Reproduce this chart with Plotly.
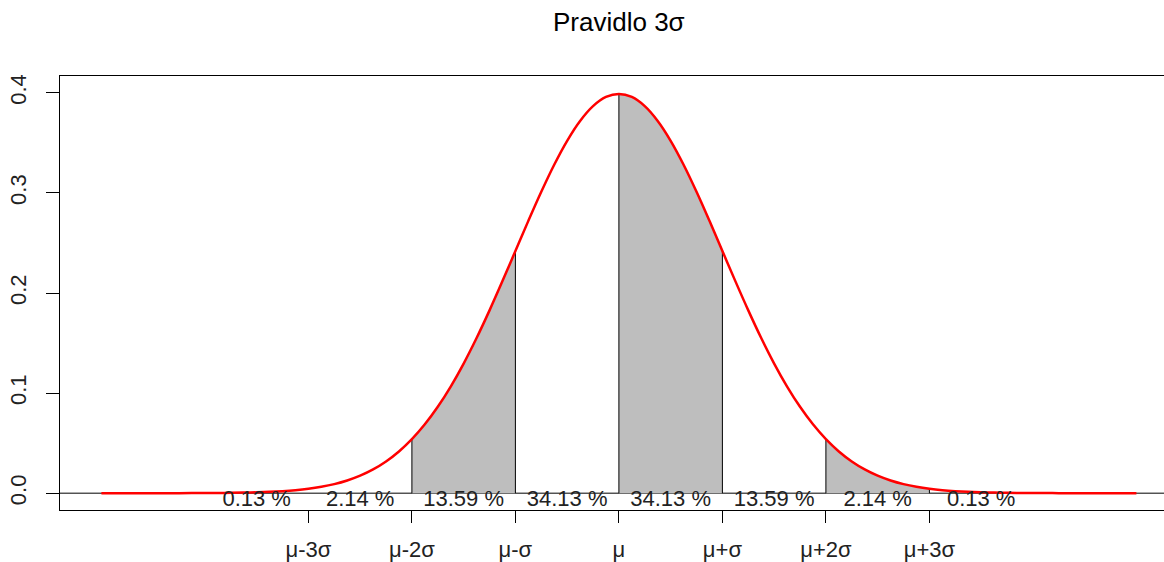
import plotly.graph_objects as go

x_grid = [i * 0.125 for i in range(-40, 41)]
density_right = [
    0.39894, 0.39584, 0.38667, 0.37185, 0.35207, 0.32816, 0.30114, 0.27206,
    0.24197, 0.21187, 0.18265, 0.15502, 0.12952, 0.10653, 0.08628, 0.06879,
    0.05399, 0.04172, 0.03174, 0.02377, 0.01753, 0.01273, 0.00909, 0.00640,
    0.00443, 0.00302, 0.00203, 0.00134, 0.00087, 0.00056, 0.00035, 0.00022,
    0.00013, 0.00008, 0.00005, 0.00003, 0.00002, 0.00001, 0.00001, 0.00000,
    0.00000,
]
density_left = [
    0.00000, 0.00000, 0.00001, 0.00001, 0.00002, 0.00003, 0.00005, 0.00008,
    0.00013, 0.00022, 0.00035, 0.00056, 0.00087, 0.00134, 0.00203, 0.00302,
    0.00443, 0.00640, 0.00909, 0.01273, 0.01753, 0.02377, 0.03174, 0.04172,
    0.05399, 0.06879, 0.08628, 0.10653, 0.12952, 0.15502, 0.18265, 0.21187,
    0.24197, 0.27206, 0.30114, 0.32816, 0.35207, 0.37185, 0.38667, 0.39584,
]
density = density_left + density_right

# Shaded intervals (in sigma units)
shaded = [(-2, -1), (0, 1), (2, 3)]
boundaries = [-2, -1, 0, 1, 2, 3]

# Percent labels
label_x = [-3.5, -2.5, -1.5, -0.5, 0.5, 1.5, 2.5, 3.5]
label_text = ["0.13 %", "2.14 %", "13.59 %", "34.13 %", "34.13 %", "13.59 %", "2.14 %", "0.13 %"]

# Axis ticks
tick_vals = [-3, -2, -1, 0, 1, 2, 3]
tick_text = ["μ-3σ", "μ-2σ", "μ-σ", "μ", "μ+σ", "μ+2σ", "μ+3σ"]
y_ticks = [0.0, 0.1, 0.2, 0.3, 0.4]
y_tick_text = ["0.0", "0.1", "0.2", "0.3", "0.4"]

FONT = "Liberation Sans, Arial, sans-serif"

fig = go.Figure()

# shaded polygons
for a, b in shaded:
    xs = [x for x in x_grid if a <= x <= b]
    ys = [y for x, y in zip(x_grid, density) if a <= x <= b]
    fig.add_trace(go.Scatter(
        x=xs, y=ys, mode="lines", fill="tozeroy", fillcolor="#BEBEBE",
        line=dict(color="rgba(0,0,0,0)", width=0, shape="spline"),
        hoverinfo="skip", showlegend=False,
    ))

# vertical boundary lines
vx, vy = [], []
for bnd in boundaries:
    yv = density[x_grid.index(bnd)]
    vx += [bnd, bnd, None]
    vy += [0, yv, None]
fig.add_trace(go.Scatter(x=vx, y=vy, mode="lines", line=dict(color="black", width=1),
                         hoverinfo="skip", showlegend=False))

# red density curve
fig.add_trace(go.Scatter(x=x_grid, y=density, mode="lines",
                         line=dict(color="#FF0000", width=2.5, shape="spline"),
                         showlegend=False))

# percent labels
fig.add_trace(go.Scatter(x=label_x, y=[-0.0075] * len(label_x), mode="text",
                         text=label_text, textposition="middle center",
                         textfont=dict(family=FONT, size=22, color="#222222"),
                         showlegend=False, cliponaxis=False))

fig.add_shape(type="line", xref="paper", x0=0, x1=1, yref="y", y0=0, y1=0,
              line=dict(color="black", width=1), layer="below")

fig.add_annotation(text="Pravidlo 3σ", xref="x", x=0, yref="paper",
                   y=1 + (76 - 22) / 438, yanchor="middle", xanchor="center",
                   showarrow=False, font=dict(family=FONT, size=26, color="black"))

fig.update_layout(
    width=1164, height=562,
    margin=dict(l=60, r=0, t=76, b=48),
    paper_bgcolor="white", plot_bgcolor="white",
    font=dict(family=FONT, size=22, color="#222222"),
    xaxis=dict(range=[-5.4, -5.4 + 1104 / 103.5], tickvals=tick_vals, ticktext=tick_text,
               ticks="outside", ticklen=12, tickcolor="black", tickwidth=1,
               showline=True, linecolor="black", linewidth=1, mirror=True,
               showgrid=False, zeroline=False, ticklabelstandoff=8,
               tickfont=dict(family=FONT, size=22, color="#222222")),
    yaxis=dict(range=[-0.0168, 0.4168], tickvals=y_ticks, ticktext=y_tick_text,
               ticks="outside", ticklen=13, tickcolor="black", tickwidth=1,
               showline=True, linecolor="black", linewidth=1, mirror=False,
               showgrid=False, zeroline=False, tickangle=-90, ticklabelstandoff=11,
               tickfont=dict(family=FONT, size=22, color="#222222")),
)

fig.write_html("out.html")
